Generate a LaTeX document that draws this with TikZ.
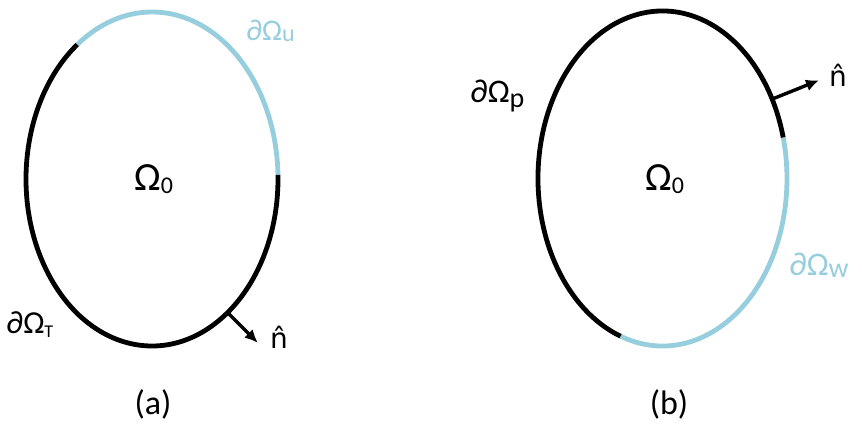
\documentclass[tikz,border=0pt]{standalone}
\usepackage{fontspec}
\setmainfont{Carlito}
\newfontfamily\dejavu{DejaVu Sans}
\usetikzlibrary{arrows.meta}
\definecolor{bnd}{RGB}{150,206,222}
\newcommand{\mysub}[3]{\raisebox{-#2pt}{\fontsize{#1}{#1}\selectfont #3}}
\begin{document}
\begin{tikzpicture}[x=1pt,y=1pt,
  edge/.style={line width=4.8pt},
  normal/.style={line width=3.4pt,-{Latex[length=13pt,width=12pt]}},
  big/.style={font=\fontsize{40}{44}\selectfont, inner sep=0pt, anchor=base west},
  lbl/.style={font=\fontsize{30}{34}\selectfont, inner sep=0pt, anchor=base west},
  nlbl/.style={font=\dejavu\fontsize{28}{32}\selectfont, inner sep=0pt, anchor=base west},
  capt/.style={font=\fontsize{34}{38}\selectfont, inner sep=0pt}]
\useasboundingbox (0,0) rectangle (862,424);
% left domain
\coordinate (A) at (152,245);
\draw[edge,bnd] (A) ++(1.4:126 and 167) arc[start angle=1.4,end angle=126.4,x radius=126,y radius=167];
\draw[edge,black] (A) ++(126.4:126 and 167) arc[start angle=126.4,end angle=361.4,x radius=126,y radius=167];
\coordinate (na0) at (227.6,111.4);
\coordinate (na1) at (257.8,81.2);
\draw[normal] (na0) -- (na1);
\node[big] (oa) at (134,234) {Ω\mysub{24}{3}{0}};
\node[lbl,text=bnd] (lu) at (246,383) {∂Ω\mysub{24}{1}{u}};
\node[lbl,font=\fontsize{32}{36}\selectfont] (lt) at (6,91) {∂Ω\mysub{18}{4}{T}};
\node[nlbl] (nha) at (270,76) {n̂};
\node[capt] (ca) at (153,20) {(a)};
% right domain
\coordinate (B) at (662.5,245.5);
\draw[edge,bnd] (B) ++(-109.7:124.5 and 167.5) arc[start angle=-109.7,end angle=14.2,x radius=124.5,y radius=167.5];
\draw[edge,black] (B) ++(14.2:124.5 and 167.5) arc[start angle=14.2,end angle=250.3,x radius=124.5,y radius=167.5];
\coordinate (nb0) at (772.1,324.9);
\coordinate (nb1) at (819.0,343.7);
\draw[normal] (nb0) -- (nb1);
\node[big] (ob) at (645,234) {Ω\mysub{24}{3}{0}};
\node[lbl,font=\fontsize{33}{36}\selectfont] (lp) at (470,321) {∂Ω\mysub{28}{5}{p}};
\node[lbl,text=bnd,font=\fontsize{33}{36}\selectfont] (lw) at (789,149) {∂Ω\mysub{28}{2}{w}};
\node[nlbl] (nhb) at (829,337) {n̂};
\node[capt] (cb) at (669,20) {(b)};
\end{tikzpicture}
\end{document}
